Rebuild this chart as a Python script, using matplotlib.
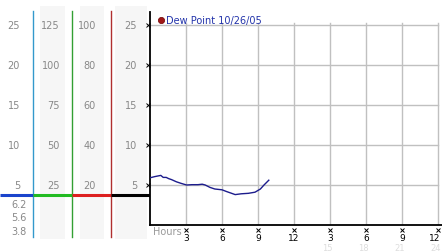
import matplotlib
matplotlib.use("Agg")
import matplotlib.pyplot as plt
from matplotlib.patches import Rectangle

# ---- data ----
hours = [0, 0.4, 0.9, 1.1, 1.35, 1.55, 1.8, 2.2, 2.6, 3.05, 3.5, 4.0, 4.35, 4.6,
         5.0, 5.4, 6.0, 6.4, 6.8, 7.1, 7.6, 8.2, 8.75, 9.2, 9.5, 9.9]
dew = [5.9, 6.05, 6.2, 5.95, 5.95, 5.8, 5.67, 5.4, 5.2, 5.0, 5.04, 5.04, 5.1, 5.0,
       4.7, 4.5, 4.4, 4.17, 3.96, 3.8, 3.9, 3.96, 4.1, 4.5, 5.0, 5.6]
series_label = "Dew Point 10/26/05"
y_ticks = [5, 10, 15, 20, 25]
col1_labels = ["5", "10", "15", "20", "25"]
col2_labels = ["25", "50", "75", "100", "125"]
col3_labels = ["20", "40", "60", "80", "100"]
col4_labels = ["5", "10", "15", "20", "25"]
stats_labels = ["6.2", "5.6", "3.8"]   # max, current, min
x_ticks = [3, 6, 9, 12, 15, 18, 21, 24]
x_labels = ["3", "6", "9", "12", "3", "6", "9", "12"]
x_labels2 = {15: "15", 18: "18", 21: "21", 24: "24"}
min_line = 3.7

W, H = 442, 253
fig = plt.figure(figsize=(W / 100, H / 100), dpi=100)
fig.patch.set_facecolor("white")

PXU = 8.0          # pixels per y unit
Y0 = 226           # pixel row of y=0

# ---- left panel (full height, y in data units) ----
axl = fig.add_axes([0, 0, 150 / W, 1])
axl.set_xlim(0, 150)
axl.set_ylim((Y0 - H) / PXU, Y0 / PXU)
axl.axis("off")

band_top = (Y0 - 7) / PXU
band_bot = (Y0 - 240) / PXU
for x0, x1 in [(40, 65), (80, 104), (115, 147)]:
    axl.add_patch(Rectangle((x0, band_bot), x1 - x0, band_top - band_bot,
                            facecolor="#f6f6f6", edgecolor="none", zorder=0))

vtop = (Y0 - 12) / PXU
vbot = (Y0 - 238) / PXU
axl.plot([33, 33], [vbot, vtop], color="#3399cc", lw=1, zorder=2)
axl.plot([72, 72], [vbot, vtop], color="#33a033", lw=1, zorder=2)
axl.plot([111, 111], [vbot, vtop], color="#b03030", lw=1, zorder=2)

axl.plot([0, 33], [min_line, min_line], color="#1a44cc", lw=2.2, solid_capstyle="butt", zorder=3)
axl.plot([33, 72], [min_line, min_line], color="#22bb22", lw=2.2, solid_capstyle="butt", zorder=3)
axl.plot([72, 111], [min_line, min_line], color="#dd2020", lw=2.2, solid_capstyle="butt", zorder=3)
axl.plot([111, 150], [min_line, min_line], color="black", lw=2.2, solid_capstyle="butt", zorder=3)

lab_kw = dict(color="#888888", fontsize=7, va="center", ha="right")
for v, a, b, c, d in zip(y_ticks, col1_labels, col2_labels, col3_labels, col4_labels):
    axl.text(20, v, a, **lab_kw)
    axl.text(60, v, b, **lab_kw)
    axl.text(96, v, c, **lab_kw)
    axl.text(137, v, d, **lab_kw)
for i, s in enumerate(stats_labels):
    axl.text(27, (Y0 - (205 + 13.5 * i)) / PXU, s, **lab_kw)

# ---- main axes ----
top_px = 13
ax = fig.add_axes([150 / W, (H - Y0) / H, (W - 150) / W, (Y0 - top_px) / H])
ax.set_xlim(0, (W - 150) / 12.0)
ax.set_ylim(0, (Y0 - top_px) / PXU)
ax.set_facecolor("white")
for s in ["top", "right"]:
    ax.spines[s].set_visible(False)
ax.spines["left"].set_color("black")
ax.spines["bottom"].set_color("black")
ax.spines["left"].set_linewidth(1.3)
ax.spines["bottom"].set_linewidth(1.3)
ax.set_xticks([])
ax.set_yticks([])

for v in y_ticks:
    ax.plot([0, 24], [v, v], color="#c0c0c0", lw=1, zorder=1)
for x in x_ticks:
    ax.plot([x, x], [0, 25.2], color="#c0c0c0", lw=1, zorder=1)

ax.plot(hours, dew, color="#1c1c8c", lw=1, zorder=3)

for v in y_ticks:
    ax.plot([-0.17], [v], marker="x", ms=2.2, mew=0.7, color="black", clip_on=False)

last = x_ticks[-1]
for x, s in zip(x_ticks, x_labels):
    ax.plot([x], [-0.65], marker="x", ms=2.2, mew=0.7, color="black", clip_on=False)
    if x == last:
        ax.text(x + 0.2, -1.6, s, fontsize=6.5, color="black", ha="right", va="center", clip_on=False)
    else:
        ax.text(x, -1.6, s, fontsize=6.5, color="black", ha="center", va="center", clip_on=False)
    if x in x_labels2:
        if x == last:
            ax.text(x + 0.2, -2.8, x_labels2[x], fontsize=6, color="#dddddd",
                    ha="right", va="center", clip_on=False)
        else:
            ax.text(x - 0.2, -2.8, x_labels2[x], fontsize=6, color="#dddddd",
                    ha="center", va="center", clip_on=False)

ax.text(0.25, -0.75, "Hours", fontsize=7, color="#999999", ha="left", va="center", clip_on=False)

ax.plot([0.92], [25.6], marker="o", ms=4.5, color="#a01818", mec="#700000", mew=0.5, clip_on=False)
ax.text(1.3, 25.6, series_label, fontsize=7, color="#2233aa", ha="left", va="center", clip_on=False)

fig.savefig("out.png", dpi=100, facecolor="white")
